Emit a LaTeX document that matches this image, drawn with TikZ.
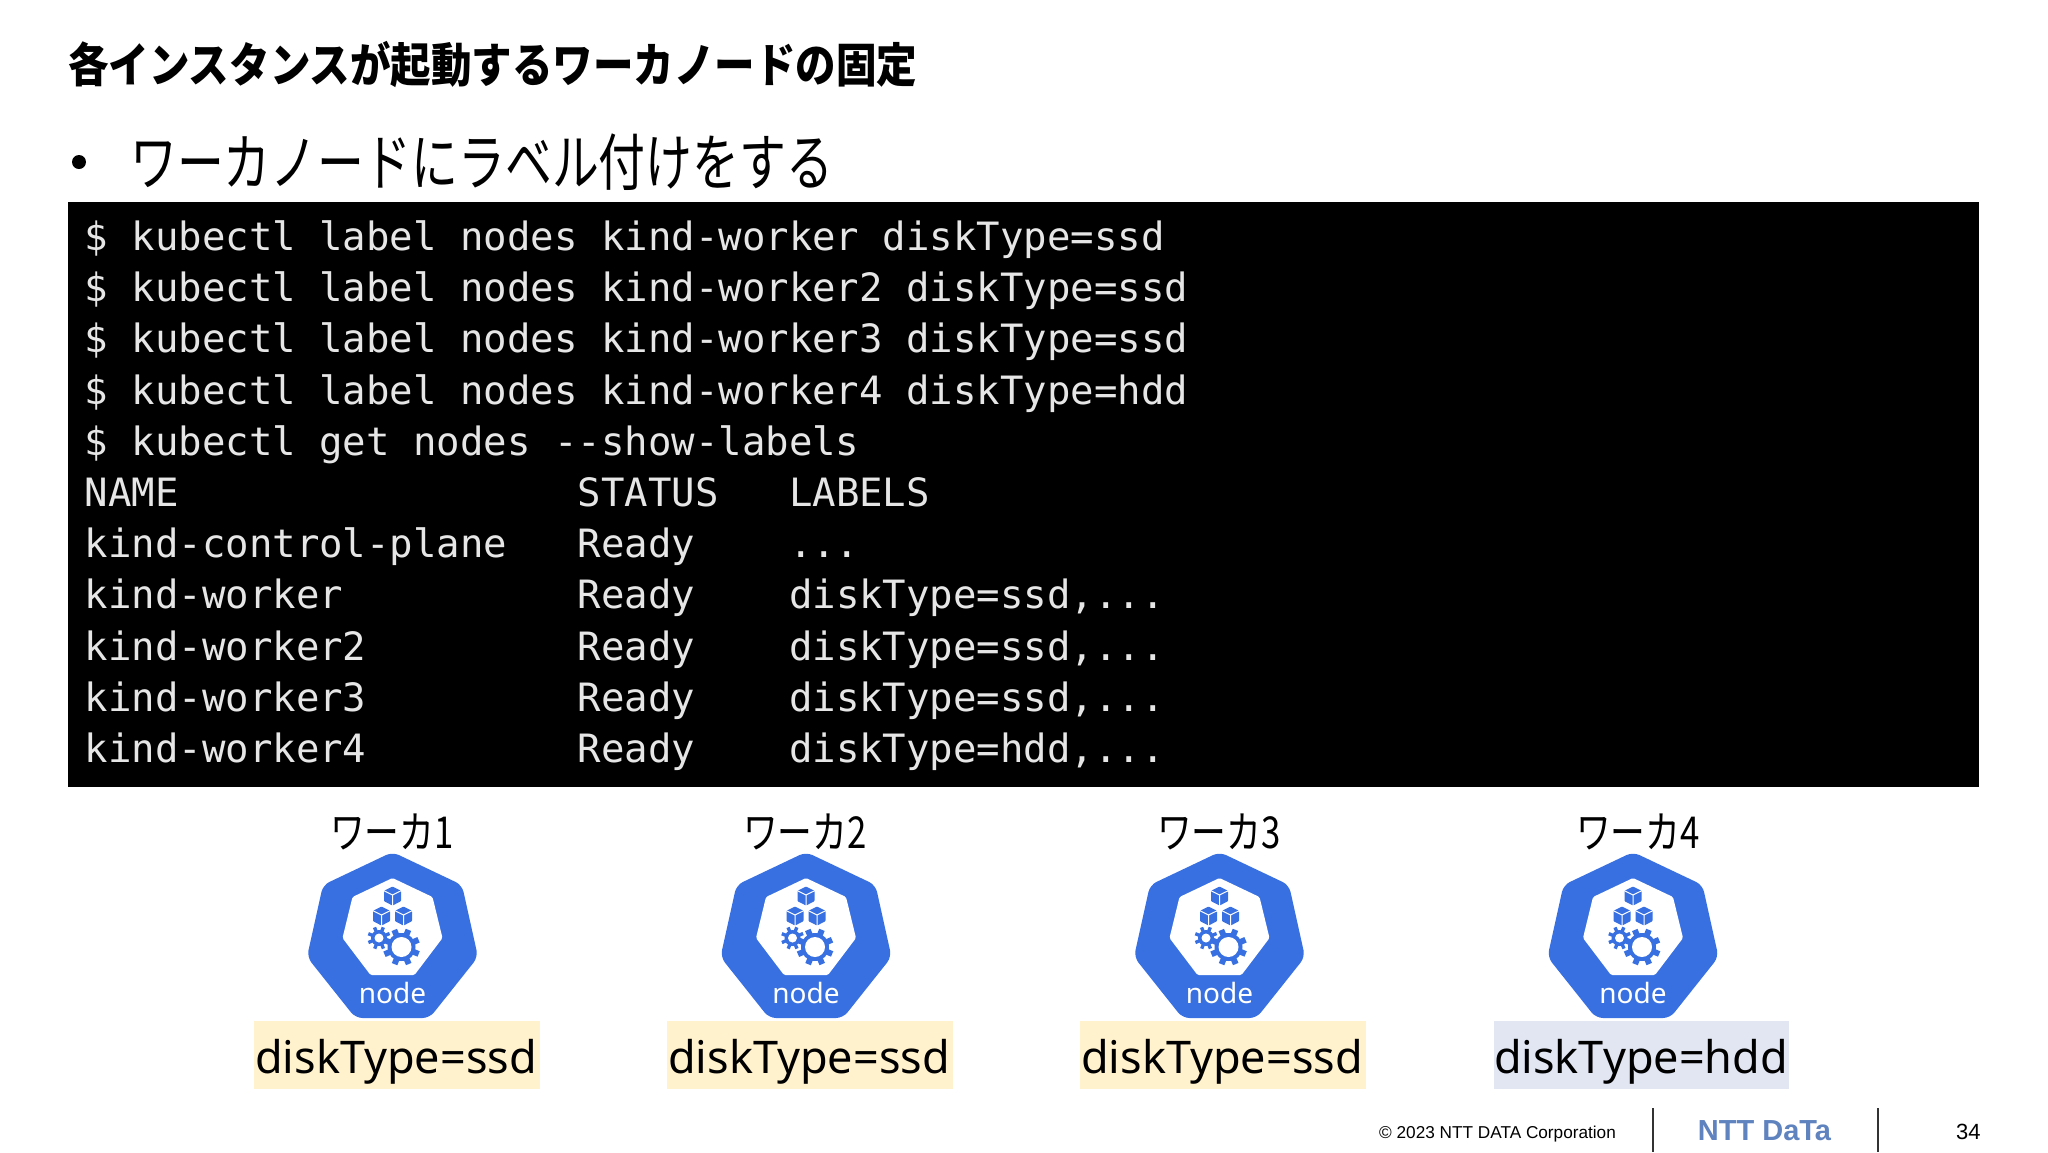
\documentclass[tikz,border=0pt]{standalone}
\usepackage{fontspec}
\setmainfont{Liberation Sans}
\newfontfamily\jptitle[FakeStretch=0.862]{Noto Sans CJK JP}
\newfontfamily\jpsub[FakeStretch=0.756]{Noto Sans CJK JP}
\newfontfamily\jpnarrow[FakeStretch=0.79]{Noto Sans CJK JP}
\newfontfamily\termfont{DejaVu Sans Mono}
\newfontfamily\labelfont{Noto Sans}
\definecolor{kubeblue}{HTML}{3870E2}
\definecolor{logoblue}{HTML}{5F83BE}
\definecolor{ssdfill}{HTML}{FFF2CC}
\definecolor{hddfill}{HTML}{E2E6F3}
\definecolor{termtext}{HTML}{E6E6E6}
\tikzset{
  termline/.style={anchor=base west,inner sep=0pt,text=termtext,font=\termfont\fontsize{39}{40}\selectfont},
  workerlabel/.style={anchor=base,inner sep=0pt,font=\jpnarrow\fontsize{44}{46}\selectfont},
  tagbox/.style={anchor=center,inner sep=0pt,minimum height=68pt},
  tagtext/.style={anchor=center,inner sep=0pt,font=\labelfont\fontsize{45}{48}\selectfont},
  nodeword/.style={anchor=center,inner sep=0pt,text=white,font=\labelfont\fontsize{28}{30}\selectfont},
  footline/.style={line width=1.6pt,draw=black!80},
}
\newcommand{\cube}[2]{%
  \begin{scope}[shift={(#1,#2)}]
    \fill[kubeblue,rounded corners=0.8pt] (0,-9.5)--(8.5,-5.2)--(8.5,5.2)--(0,9.5)--(-8.5,5.2)--(-8.5,-5.2)--cycle;
    \draw[white,line width=1pt] (-8.5,-5.2)--(0,-1)--(8.5,-5.2) (0,-1)--(0,9.5);
  \end{scope}}
\newcommand{\gear}[5]{% x,y,inner,body,tip
  \begin{scope}[shift={(#1,#2)}]
    \foreach \a in {0,45,...,315}{\draw[kubeblue,line width=#4*0.42pt] (\a+22:#4*0.9)--(\a+22:#5);}
    \fill[kubeblue] (0,0) circle (#4);
    \fill[white] (0,0) circle (#3);
  \end{scope}}
\newcommand{\kubenode}[2]{%
  \begin{scope}[shift={(#1,853)}]
    \fill[kubeblue,rounded corners=7pt] (0,-1)--(69.5,32)--(85.5,104)--(37,165)--(-37,165)--(-85.5,104)--(-69.5,32)--cycle;
    \fill[white,rounded corners=1.5pt] (0,25)--(40,44)--(50,85)--(22,122)--(-22,122)--(-50,85)--(-40,44)--cycle;
    \cube{0}{43}\cube{-11}{63}\cube{11}{63}
    \gear{-13.5}{85}{4.5}{8}{11.5}
    \gear{9}{94}{10}{14}{18.5}
    \node[nodeword] (#2) at (0,140) {node};
  \end{scope}}
\begin{document}
\begin{tikzpicture}[x=1pt,y=-1pt]
\useasboundingbox[fill=white] (0,0) rectangle (2048,1152);
\node[anchor=base west,inner sep=0pt,font=\jptitle\bfseries\fontsize{47}{50}\selectfont] (title) at (68,82) {各インスタンスが起動するワーカノードの固定};
\fill (79,162) circle (7pt);
\node[anchor=base west,inner sep=0pt,font=\jpsub\fontsize{62}{66}\selectfont] (sub) at (130,185) {ワーカノードにラベル付けをする};
\node[anchor=north west,inner sep=0pt,minimum width=1911pt,minimum height=585pt,fill=black] (term) at (68,202) {};
\node[termline] (l1) at (84.5,250.5) {\$ kubectl label nodes kind-worker diskType=ssd};
\node[termline] (l2) at (84.5,301.7) {\$ kubectl label nodes kind-worker2 diskType=ssd};
\node[termline] (l3) at (84.5,352.9) {\$ kubectl label nodes kind-worker3 diskType=ssd};
\node[termline] (l4) at (84.5,404.1) {\$ kubectl label nodes kind-worker4 diskType=hdd};
\node[termline] (l5) at (84.5,455.3) {\$ kubectl get nodes --show-labels};
\node[termline] (l6) at (84.5,506.5) {NAME~~~~~~~~~~~~~~~~~STATUS~~~LABELS};
\node[termline] (l7) at (84.5,557.7) {kind-control-plane~~~Ready~~~~...};
\node[termline] (l8) at (84.5,608.9) {kind-worker~~~~~~~~~~Ready~~~~diskType=ssd,...};
\node[termline] (l9) at (84.5,660.1) {kind-worker2~~~~~~~~~Ready~~~~diskType=ssd,...};
\node[termline] (l10) at (84.5,711.3) {kind-worker3~~~~~~~~~Ready~~~~diskType=ssd,...};
\node[termline] (l11) at (84.5,762.5) {kind-worker4~~~~~~~~~Ready~~~~diskType=hdd,...};
\node[workerlabel] (w1) at (392,848) {ワーカ1};
\node[workerlabel] (w2) at (805,848) {ワーカ2};
\node[workerlabel] (w3) at (1219,848) {ワーカ3};
\node[workerlabel] (w4) at (1638,848) {ワーカ4};
\kubenode{392.5}{n1}
\kubenode{806}{n2}
\kubenode{1219.5}{n3}
\kubenode{1633}{n4}
\node[tagbox,fill=ssdfill,minimum width=286pt] (b1) at (397,1055) {};
\node[tagbox,fill=ssdfill,minimum width=286pt] (b2) at (810,1055) {};
\node[tagbox,fill=ssdfill,minimum width=286pt] (b3) at (1223,1055) {};
\node[tagbox,fill=hddfill,minimum width=295pt] (b4) at (1641,1055) {};
\node[tagtext] (t1) at (396,1061.5) {diskType=ssd};
\node[tagtext] (t2) at (809,1061.5) {diskType=ssd};
\node[tagtext] (t3) at (1222,1061.5) {diskType=ssd};
\node[tagtext] (t4) at (1641,1061.5) {diskType=hdd};
\node[anchor=base west,inner sep=0pt,font=\fontsize{17.2}{20}\selectfont] (copy) at (1379,1138) {© 2023 NTT DATA Corporation};
\draw[footline] (1653,1108)--(1653,1152);
\draw[footline] (1878,1108)--(1878,1152);
\node[anchor=center,inner sep=0pt,text=logoblue,font=\bfseries\fontsize{29}{30}\selectfont] (logo) at (1764.5,1130.5) {NTT DaTa};
\node[anchor=base west,inner sep=0pt,font=\fontsize{22}{24}\selectfont] (page) at (1956,1139) {34};
\end{tikzpicture}
\end{document}
